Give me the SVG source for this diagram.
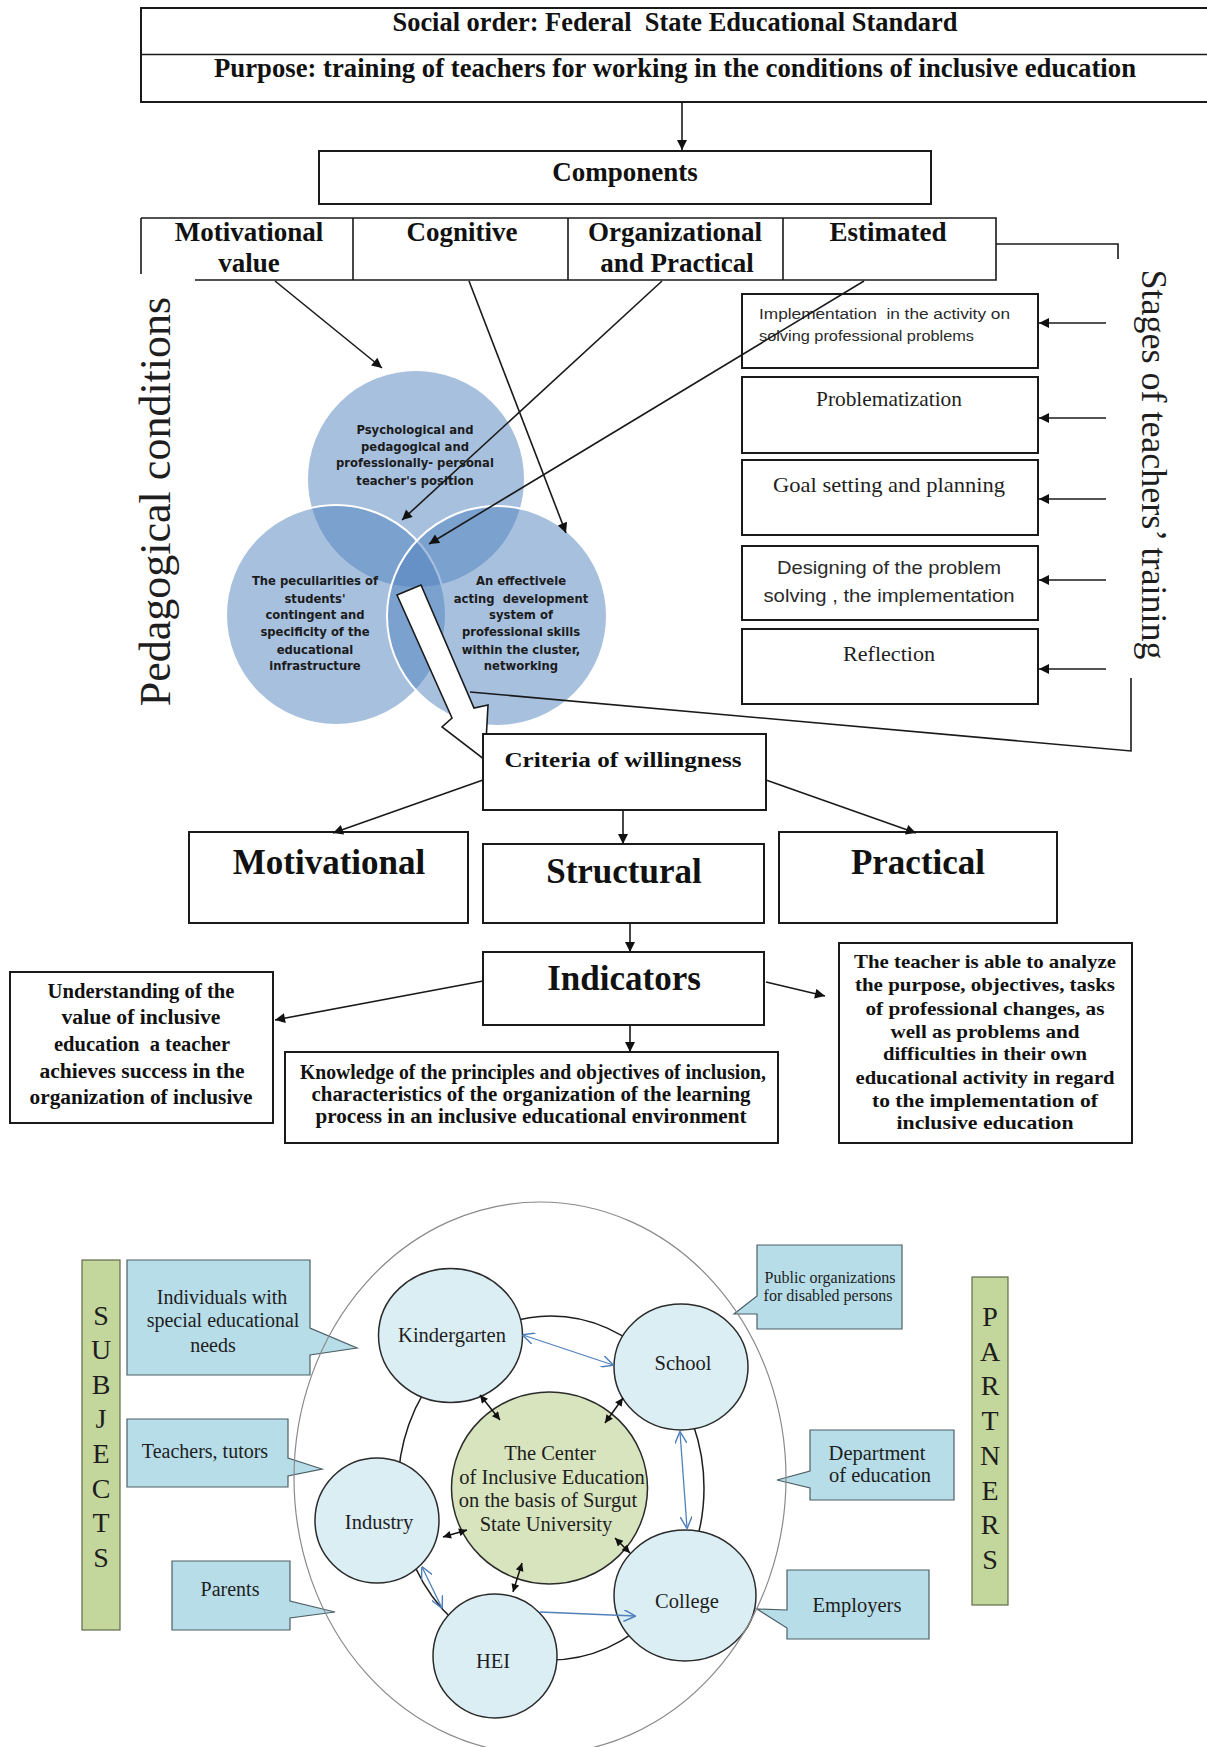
<svg xmlns="http://www.w3.org/2000/svg" width="1207" height="1747" viewBox="0 0 1207 1747">
<style>
.box{fill:#fff;stroke:#1a1a1a;stroke-width:2}
.sb{font-family:"Liberation Serif",serif;font-weight:bold;fill:#111}
.s{font-family:"Liberation Serif",serif;fill:#1e1e1e}
.ss{font-family:"Liberation Sans",sans-serif;fill:#2a2a2a}
.vt{font-family:"DejaVu Sans",sans-serif;font-weight:bold;font-size:11.6px;fill:#1b1b1b;text-anchor:middle}
.c{text-anchor:middle}
.ln{stroke:#1a1a1a;stroke-width:1.6;fill:none}
.callout{fill:#b7dde8;stroke:#4d5f66;stroke-width:1.2}
.sat{fill:#dbeef4;stroke:#2b2b2b;stroke-width:1.5}
.bar{fill:#c3d69b;stroke:#5f6b4a;stroke-width:1.2}
.venn{fill:#4f81bd;fill-opacity:0.5;stroke:#fff;stroke-width:2}
.blue{stroke:#4f81bd;stroke-width:1.3;fill:none}
.dbl{stroke:#111;stroke-width:1.5;fill:none}
</style>
<defs>
<marker id="ah" viewBox="0 0 10 10" refX="10" refY="5" markerWidth="12" markerHeight="10" orient="auto" markerUnits="userSpaceOnUse"><path d="M0,0 L10,5 L0,10 z" fill="#111"/></marker>
<marker id="sa" viewBox="0 0 10 10" refX="10" refY="5" markerWidth="9" markerHeight="8" orient="auto-start-reverse" markerUnits="userSpaceOnUse"><path d="M0,0 L10,5 L0,10 z" fill="#111"/></marker>
<marker id="ba" viewBox="0 0 10 10" refX="9.5" refY="5" markerWidth="12" markerHeight="12" orient="auto-start-reverse" markerUnits="userSpaceOnUse"><path d="M0,0 L10,5 L0,10" fill="none" stroke="#4f81bd" stroke-width="1.2"/></marker>
</defs>
<rect width="1207" height="1747" fill="#fff"/>

<!-- top header -->
<g id="header">
<rect class="box" x="141" y="8" width="1090" height="94"/>
<line class="ln" x1="141" y1="54.5" x2="1207" y2="54.5" stroke-width="2"/>
<text class="sb c" x="675" y="31" font-size="28" textLength="565" lengthAdjust="spacingAndGlyphs" xml:space="preserve">Social order: Federal  State Educational Standard</text>
<text class="sb c" x="675" y="77" font-size="26.5" textLength="922" lengthAdjust="spacingAndGlyphs">Purpose: training of teachers for working in the conditions of inclusive education</text>
</g>

<g id="components">
<rect class="box" x="319" y="151" width="612" height="53"/>
<text class="sb c" x="625" y="181" font-size="27">Components</text>
</g>

<g id="component-row">
<path class="ln" stroke-width="2" d="M141,218 H996 V280 H195 M141,218 V274 M353,218 V280 M568,218 V280 M783,218 V280"/>
<text class="sb c" x="249" y="241" font-size="27">Motivational</text>
<text class="sb c" x="249" y="272" font-size="27">value</text>
<text class="sb c" x="462" y="241" font-size="27">Cognitive</text>
<text class="sb c" x="675" y="241" font-size="27">Organizational</text>
<text class="sb c" x="677" y="272" font-size="27">and Practical</text>
<text class="sb c" x="888" y="241" font-size="27">Estimated</text>
</g>

<text id="pedagogical-conditions" class="s c" font-size="44" transform="translate(170,501.5) rotate(-90)">Pedagogical conditions</text>
<text id="stages-label" class="s c" font-size="36" transform="translate(1142,464.5) rotate(90)">Stages of teachers’ training</text>

<g id="venn">
<circle class="venn" cx="416" cy="479" r="109" stroke="none"/>
<circle class="venn" cx="336" cy="615" r="110"/>
<circle class="venn" cx="497" cy="616" r="110"/>
<text class="vt" x="415" y="434">Psychological and</text>
<text class="vt" x="415" y="450.5">pedagogical and</text>
<text class="vt" x="415" y="467">professionally- personal</text>
<text class="vt" x="415" y="484.5">teacher's position</text>
<text class="vt" x="315" y="585">The peculiarities of</text>
<text class="vt" x="315" y="602.5">students'</text>
<text class="vt" x="315" y="618.5">contingent and</text>
<text class="vt" x="315" y="636">specificity of the</text>
<text class="vt" x="315" y="653.5">educational</text>
<text class="vt" x="315" y="670">infrastructure</text>
<text class="vt" x="521" y="585">An effectivele</text>
<text class="vt" x="521" y="602.5" xml:space="preserve">acting  development</text>
<text class="vt" x="521" y="618.5">system of</text>
<text class="vt" x="521" y="636">professional skills</text>
<text class="vt" x="521" y="653.5">within the cluster,</text>
<text class="vt" x="521" y="670">networking</text>
</g>

<g id="stage-boxes">
<g id="stage-1"><rect class="box" x="742" y="294" width="296" height="74"/>
<text class="ss" x="759" y="319" font-size="14" textLength="251" lengthAdjust="spacingAndGlyphs" xml:space="preserve">Implementation  in the activity on</text>
<text class="ss" x="759" y="341" font-size="14" textLength="215" lengthAdjust="spacingAndGlyphs">solving professional problems</text></g>
<g id="stage-2"><rect class="box" x="742" y="377" width="296" height="76"/>
<text class="s c" x="889" y="406" font-size="21" textLength="146" lengthAdjust="spacingAndGlyphs">Problematization</text></g>
<g id="stage-3"><rect class="box" x="742" y="460" width="296" height="75"/>
<text class="s c" x="889" y="492" font-size="21" textLength="232" lengthAdjust="spacingAndGlyphs">Goal setting and planning</text></g>
<g id="stage-4"><rect class="box" x="742" y="546" width="296" height="74"/>
<text class="ss c" x="889" y="574" font-size="19" textLength="224" lengthAdjust="spacingAndGlyphs">Designing of the problem</text>
<text class="ss c" x="889" y="602" font-size="19" textLength="251" lengthAdjust="spacingAndGlyphs">solving , the implementation</text></g>
<g id="stage-5"><rect class="box" x="742" y="629" width="296" height="75"/>
<text class="s c" x="889" y="661" font-size="21" textLength="92" lengthAdjust="spacingAndGlyphs">Reflection</text></g>
</g>

<g id="hollow-arrow">
<polygon points="397,595 421,585 474,708 488,705 485,760 442,727 452,718" fill="#fff" stroke="#1a1a1a" stroke-width="1.6"/>
</g>

<g id="criteria">
<rect class="box" x="483" y="734" width="283" height="76"/>
<text class="sb c" x="623" y="767" font-size="22" textLength="237" lengthAdjust="spacingAndGlyphs">Criteria of willingness</text>
</g>

<g id="motivational"><rect class="box" x="189" y="832" width="279" height="91"/>
<text class="sb c" x="329" y="874" font-size="35">Motivational</text></g>
<g id="structural"><rect class="box" x="483" y="844" width="281" height="79"/>
<text class="sb c" x="624" y="883" font-size="35">Structural</text></g>
<g id="practical"><rect class="box" x="779" y="832" width="278" height="91"/>
<text class="sb c" x="918" y="874" font-size="35">Practical</text></g>

<g id="indicators"><rect class="box" x="483" y="952" width="281" height="73"/>
<text class="sb c" x="624" y="990" font-size="35">Indicators</text></g>

<g id="understanding"><rect class="box" x="10" y="972" width="263" height="151"/>
<text class="sb c" x="141" y="998" font-size="20" textLength="187" lengthAdjust="spacingAndGlyphs">Understanding of the</text>
<text class="sb c" x="141" y="1024" font-size="20" textLength="159" lengthAdjust="spacingAndGlyphs">value of inclusive</text>
<text class="sb c" x="142" y="1051" font-size="20" textLength="176" lengthAdjust="spacingAndGlyphs" xml:space="preserve">education  a teacher</text>
<text class="sb c" x="142" y="1078" font-size="20" textLength="205" lengthAdjust="spacingAndGlyphs">achieves success in the</text>
<text class="sb c" x="141" y="1104" font-size="20" textLength="223" lengthAdjust="spacingAndGlyphs">organization of inclusive</text></g>

<g id="knowledge"><rect class="box" x="285" y="1052" width="493" height="91"/>
<text class="sb c" x="533" y="1079" font-size="20" textLength="466" lengthAdjust="spacingAndGlyphs">Knowledge of the principles and objectives of inclusion,</text>
<text class="sb c" x="531" y="1101" font-size="20" textLength="439" lengthAdjust="spacingAndGlyphs">characteristics of the organization of the learning</text>
<text class="sb c" x="531" y="1123" font-size="20" textLength="431" lengthAdjust="spacingAndGlyphs">process in an inclusive educational environment</text></g>

<g id="teacher-able"><rect class="box" x="839" y="943" width="293" height="200"/>
<text class="sb c" x="985" y="968" font-size="19" textLength="262" lengthAdjust="spacingAndGlyphs">The teacher is able to analyze</text>
<text class="sb c" x="985" y="991" font-size="19" textLength="260" lengthAdjust="spacingAndGlyphs">the purpose, objectives, tasks</text>
<text class="sb c" x="985" y="1015" font-size="19" textLength="239" lengthAdjust="spacingAndGlyphs">of professional changes, as</text>
<text class="sb c" x="985" y="1038" font-size="19" textLength="189" lengthAdjust="spacingAndGlyphs">well as problems and</text>
<text class="sb c" x="985" y="1060" font-size="19" textLength="204" lengthAdjust="spacingAndGlyphs">difficulties in their own</text>
<text class="sb c" x="985" y="1084" font-size="19" textLength="259" lengthAdjust="spacingAndGlyphs">educational activity in regard</text>
<text class="sb c" x="985" y="1107" font-size="19" textLength="226" lengthAdjust="spacingAndGlyphs">to the implementation of</text>
<text class="sb c" x="985" y="1129" font-size="19" textLength="177" lengthAdjust="spacingAndGlyphs">inclusive education</text></g>

<g id="connectors">
<line class="ln" x1="682" y1="102" x2="682" y2="150" marker-end="url(#ah)"/>
<polyline class="ln" points="996,244 1118,244 1118,259"/>
<polyline class="ln" points="470,692 1131,751 1131,678"/>
<line class="ln" x1="275" y1="281" x2="382" y2="368" marker-end="url(#ah)"/>
<line class="ln" x1="469" y1="281" x2="566" y2="533" marker-end="url(#ah)"/>
<line class="ln" x1="662" y1="281" x2="402" y2="520" marker-end="url(#ah)"/>
<line class="ln" x1="864" y1="281" x2="429" y2="544" marker-end="url(#ah)"/>
<line class="ln" x1="1106" y1="323" x2="1039" y2="323" marker-end="url(#ah)"/>
<line class="ln" x1="1106" y1="418" x2="1039" y2="418" marker-end="url(#ah)"/>
<line class="ln" x1="1106" y1="499" x2="1039" y2="499" marker-end="url(#ah)"/>
<line class="ln" x1="1106" y1="580" x2="1039" y2="580" marker-end="url(#ah)"/>
<line class="ln" x1="1106" y1="669" x2="1039" y2="669" marker-end="url(#ah)"/>
<line class="ln" x1="483" y1="780" x2="333" y2="833" marker-end="url(#ah)"/>
<line class="ln" x1="766" y1="780" x2="916" y2="833" marker-end="url(#ah)"/>
<line class="ln" x1="623" y1="811" x2="623" y2="844" marker-end="url(#ah)"/>
<line class="ln" x1="630" y1="923" x2="630" y2="952" marker-end="url(#ah)"/>
<line class="ln" x1="483" y1="981" x2="275" y2="1020" marker-end="url(#ah)"/>
<line class="ln" x1="630" y1="1025" x2="630" y2="1052" marker-end="url(#ah)"/>
<line class="ln" x1="766" y1="982" x2="825" y2="996" marker-end="url(#ah)"/>
</g>

<!-- bottom scheme -->
<g id="subjects"><rect class="bar" x="82" y="1260" width="38" height="370"/>
<g class="s c" font-size="28">
<text x="101" y="1324.5">S</text><text x="101" y="1359">U</text><text x="101" y="1393.7">B</text><text x="101" y="1428.3">J</text><text x="101" y="1463">E</text><text x="101" y="1497.5">C</text><text x="101" y="1532">T</text><text x="101" y="1566.7">S</text>
</g></g>
<g id="partners"><rect class="bar" x="972" y="1277" width="36" height="328"/>
<g class="s c" font-size="28">
<text x="990" y="1326">P</text><text x="990" y="1360.7">A</text><text x="990" y="1395.4">R</text><text x="990" y="1430">T</text><text x="990" y="1464.8">N</text><text x="990" y="1499.5">E</text><text x="990" y="1534.2">R</text><text x="990" y="1569">S</text>
</g></g>

<g id="callout-individuals"><path class="callout" d="M127,1260 H310 V1328 L357,1348 L310,1355 V1375 H127 Z"/>
<text class="s c" x="222" y="1304" font-size="20">Individuals with</text>
<text class="s c" x="223" y="1327" font-size="20">special educational</text>
<text class="s c" x="213" y="1352" font-size="20">needs</text></g>
<g id="callout-teachers"><path class="callout" d="M127,1419 H288 V1458 L322,1469 L288,1476 V1487 H127 Z"/>
<text class="s c" x="205" y="1458" font-size="20">Teachers, tutors</text></g>
<g id="callout-parents"><path class="callout" d="M172,1561 H290 V1601 L335,1612 L290,1618 V1630 H172 Z"/>
<text class="s c" x="230" y="1596" font-size="20">Parents</text></g>
<g id="callout-public"><path class="callout" d="M757,1245 H902 V1329 H757 V1314 L734,1314 L757,1296 Z"/>
<text class="s c" x="830" y="1283" font-size="16">Public organizations</text>
<text class="s c" x="828" y="1301" font-size="16">for disabled persons</text></g>
<g id="callout-department"><path class="callout" d="M810,1430 H954 V1500 H810 V1488 L777,1480 L810,1471 Z"/>
<text class="s c" x="877" y="1460" font-size="20.5">Department</text>
<text class="s c" x="880" y="1482" font-size="20.5">of education</text></g>
<g id="callout-employers"><path class="callout" d="M787,1570 H929 V1639 H787 V1628 L757,1609 L787,1610 Z"/>
<text class="s c" x="857" y="1612" font-size="20.5">Employers</text></g>

<ellipse id="inner-ring" cx="551" cy="1488" rx="153" ry="172" fill="none" stroke="#1e1e1e" stroke-width="1.5"/>

<g id="center"><ellipse cx="549.5" cy="1488" rx="98" ry="96" fill="#d7e4bd" stroke="#2b2b2b" stroke-width="1.5"/>
<text class="s c" x="550" y="1460" font-size="20.5">The Center</text>
<text class="s c" x="552" y="1484" font-size="20.5">of Inclusive Education</text>
<text class="s c" x="548" y="1507" font-size="20.5">on the basis of Surgut</text>
<text class="s c" x="546" y="1531" font-size="20.5">State University</text></g>

<g id="kindergarten"><ellipse class="sat" cx="450.5" cy="1335.5" rx="72" ry="67"/>
<text class="s c" x="452" y="1342" font-size="20.5">Kindergarten</text></g>
<g id="school"><ellipse class="sat" cx="681" cy="1367" rx="67" ry="63"/>
<text class="s c" x="683" y="1370" font-size="20.5">School</text></g>
<g id="industry"><ellipse class="sat" cx="377" cy="1520.5" rx="62" ry="62.5"/>
<text class="s c" x="379" y="1529" font-size="20.5">Industry</text></g>
<g id="hei"><ellipse class="sat" cx="495" cy="1656" rx="62" ry="62"/>
<text class="s c" x="493" y="1668" font-size="20.5">HEI</text></g>
<g id="college"><ellipse class="sat" cx="685" cy="1595.5" rx="71" ry="65.5"/>
<text class="s c" x="687" y="1608" font-size="20.5">College</text></g>

<ellipse id="outer-ring" cx="540" cy="1478" rx="246" ry="276" fill="none" stroke="#8a8a8a" stroke-width="1.2"/>

<g id="scheme-connectors">
<line class="blue" x1="523" y1="1335" x2="613" y2="1365" marker-start="url(#ba)" marker-end="url(#ba)"/>
<line class="blue" x1="680" y1="1432" x2="687" y2="1528" marker-start="url(#ba)" marker-end="url(#ba)"/>
<line class="blue" x1="422" y1="1567" x2="442" y2="1608" marker-start="url(#ba)" marker-end="url(#ba)"/>
<line class="blue" x1="540" y1="1612" x2="635" y2="1616" marker-end="url(#ba)"/>
<line class="dbl" x1="480" y1="1395" x2="500" y2="1420" marker-start="url(#sa)" marker-end="url(#sa)"/>
<line class="dbl" x1="623" y1="1398" x2="605" y2="1423" marker-start="url(#sa)" marker-end="url(#sa)"/>
<line class="dbl" x1="443" y1="1537" x2="467" y2="1530" marker-start="url(#sa)" marker-end="url(#sa)"/>
<line class="dbl" x1="522" y1="1563" x2="513" y2="1592" marker-start="url(#sa)" marker-end="url(#sa)"/>
<line class="dbl" x1="615" y1="1538" x2="630" y2="1553" marker-start="url(#sa)" marker-end="url(#sa)"/>
</g>
</svg>
